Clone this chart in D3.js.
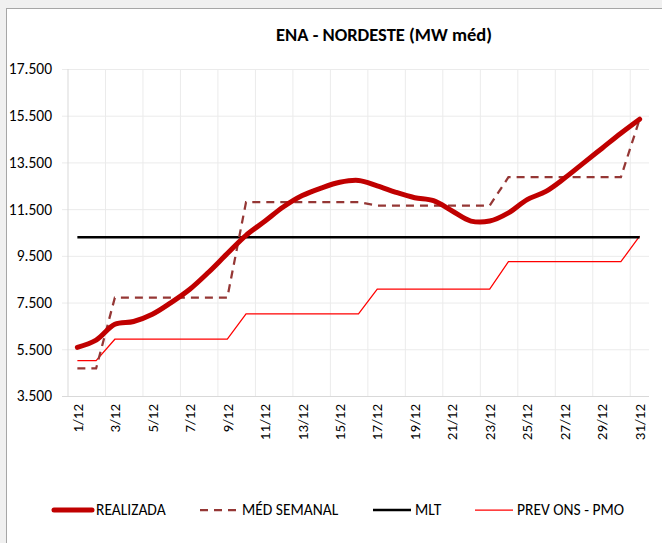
<!DOCTYPE html>
<html>
<head>
<meta charset="utf-8">
<script src="https://cdn.jsdelivr.net/npm/d3@7"></script>
<style>
  body { margin: 0; background: #f0f0f0; }
  text { font-family: Carlito, Lato, "Open Sans", sans-serif; fill: #000; }
</style>
</head>
<body>
<div id="chart-area"></div>
<script>
// data (MW méd)
var days = ["1/12","2/12","3/12","4/12","5/12","6/12","7/12","8/12","9/12","10/12",
            "11/12","12/12","13/12","14/12","15/12","16/12","17/12","18/12","19/12","20/12",
            "21/12","22/12","23/12","24/12","25/12","26/12","27/12","28/12","29/12","30/12","31/12"];

var xLabels = ["1/12","3/12","5/12","7/12","9/12","11/12","13/12","15/12",
               "17/12","19/12","21/12","23/12","25/12","27/12","29/12","31/12"];

var yTicks = [3500, 5500, 7500, 9500, 11500, 13500, 15500, 17500];

var realizada = [5580, 5890, 6570, 6690, 7000, 7500, 8070, 8800, 9600, 10380,
                 10980, 11600, 12080, 12400, 12650, 12730, 12500, 12220, 11990, 11860,
                 11420, 10990, 10990, 11340, 11910, 12260, 12830, 13470, 14110, 14750, 15350];

var medSemanal = [4680, 4680, 7710, 7710, 7710, 7710, 7710, 7710, 7710, 11800,
                  11800, 11800, 11800, 11800, 11800, 11800, 11650, 11650, 11650, 11650,
                  11650, 11650, 11650, 12870, 12870, 12870, 12870, 12870, 12870, 12870, 15350];

var mlt = [10300, 10300, 10300, 10300, 10300, 10300, 10300, 10300, 10300, 10300,
           10300, 10300, 10300, 10300, 10300, 10300, 10300, 10300, 10300, 10300,
           10300, 10300, 10300, 10300, 10300, 10300, 10300, 10300, 10300, 10300, 10300];

var prevOns = [5010, 5010, 5930, 5930, 5930, 5930, 5930, 5930, 5930, 7020,
               7020, 7020, 7020, 7020, 7020, 7020, 8080, 8080, 8080, 8080,
               8080, 8080, 8080, 9250, 9250, 9250, 9250, 9250, 9250, 9250, 10340];

var margin = { left: 68, top: 69 };
var width = 581,
    height = 327;

var svg = d3.select("#chart-area")
    .append("svg")
        .attr("width", 662)
        .attr("height", 543);

// chart frame (runs past right/bottom of the picture)
svg.append("rect")
    .attr("x", 6.5)
    .attr("y", 8.5)
    .attr("width", 700)
    .attr("height", 600)
    .attr("fill", "#fff")
    .attr("stroke", "#a6a6a6");

// Title
svg.append("text")
    .attr("x", 384)
    .attr("y", 41)
    .attr("text-anchor", "middle")
    .attr("font-size", "18.5px")
    .attr("font-weight", "bold")
    .text("ENA - NORDESTE (MW méd)");

var g = svg.append("g")
    .attr("transform", "translate(" + margin.left + ", " + margin.top + ")");

// Scales
var x = d3.scaleBand()
    .domain(days)
    .range([0, width])
    .padding(0);

var y = d3.scaleLinear()
    .domain([3500, 17500])
    .range([height, 0]);

var ptBR = d3.formatLocale({ decimal: ",", thousands: ".", grouping: [3], currency: ["R$", ""] });
var fmt = ptBR.format(",.0f");

// vertical gridlines every 2 days
g.append("g")
    .attr("class", "x grid")
    .selectAll("line")
    .data(days.filter(function(d, i){ return i > 0 && i % 2 == 0; }))
    .enter()
    .append("line")
        .attr("x1", function(d){ return x(d); })
        .attr("x2", function(d){ return x(d); })
        .attr("y1", 0)
        .attr("y2", height)
        .attr("stroke", "#ebebeb");

// Y Axis (gridlines stick out 6px as ticks)
var yAxisCall = d3.axisLeft(y)
    .tickValues(yTicks)
    .tickSize(-(width + 6))
    .tickPadding(10)
    .tickFormat(fmt);
var yAxis = g.append("g")
    .attr("class", "y axis")
    .attr("transform", "translate(-6,0)")
    .call(yAxisCall);
yAxis.select(".domain").remove();
yAxis.selectAll("line").attr("stroke", function(d){ return d == 3500 ? "#d9d9d9" : "#ebebeb"; });
yAxis.selectAll("text").attr("font-size", "15.5px");

// left axis line
g.append("line")
    .attr("x1", 0).attr("x2", 0)
    .attr("y1", 0).attr("y2", height)
    .attr("stroke", "#d9d9d9");

// X Axis
var xAxisCall = d3.axisBottom(x).tickValues(xLabels).tickSize(0);
var xAxis = g.append("g")
    .attr("class", "x axis")
    .attr("transform", "translate(0," + height + ")")
    .call(xAxisCall);
xAxis.select(".domain").remove();
xAxis.selectAll("text")
    .attr("transform", "rotate(-90)")
    .attr("x", -8)
    .attr("y", 0)
    .attr("dy", "0.35em")
    .attr("text-anchor", "end")
    .attr("font-size", "15px");

var cx = function(d, i){ return x(days[i]) + x.bandwidth() / 2; };

var straight = d3.line().x(cx).y(function(d){ return y(d); });
var smooth = d3.line().x(cx).y(function(d){ return y(d); }).curve(d3.curveCatmullRom.alpha(0.5));

// Lines
g.append("path")
    .datum(prevOns)
    .attr("d", straight)
    .attr("fill", "none")
    .attr("stroke", "#ff0000")
    .attr("stroke-width", 1.25);

g.append("path")
    .datum(mlt)
    .attr("d", straight)
    .attr("fill", "none")
    .attr("stroke", "#000")
    .attr("stroke-width", 2.5);

g.append("path")
    .datum(medSemanal)
    .attr("d", straight)
    .attr("fill", "none")
    .attr("stroke", "#953735")
    .attr("stroke-width", 2.25)
    .attr("stroke-dasharray", "8,6");

g.append("path")
    .datum(realizada)
    .attr("d", smooth)
    .attr("fill", "none")
    .attr("stroke", "#c00000")
    .attr("stroke-width", 5)
    .attr("stroke-linecap", "round")
    .attr("stroke-linejoin", "round");

// Legend
var legend = [
    { name: "REALIZADA", x: 54, color: "#c00000", w: 5, dash: null, cap: "round" },
    { name: "MÉD SEMANAL", x: 200, color: "#953735", w: 2.25, dash: "8,6", cap: "butt" },
    { name: "MLT", x: 373, color: "#000", w: 2.5, dash: null, cap: "butt" },
    { name: "PREV ONS - PMO", x: 475, color: "#ff0000", w: 1.25, dash: null, cap: "butt" }
];

var items = svg.append("g")
    .attr("class", "legend")
    .selectAll("g")
    .data(legend)
    .enter()
    .append("g")
        .attr("transform", function(d){ return "translate(" + d.x + ",510)"; });

items.append("line")
    .attr("x1", 0)
    .attr("x2", 38)
    .attr("stroke", function(d){ return d.color; })
    .attr("stroke-width", function(d){ return d.w; })
    .attr("stroke-dasharray", function(d){ return d.dash; })
    .attr("stroke-linecap", function(d){ return d.cap; });

items.append("text")
    .attr("x", 42)
    .attr("dy", "0.35em")
    .attr("font-size", "15.5px")
    .text(function(d){ return d.name; });
</script>
</body>
</html>
